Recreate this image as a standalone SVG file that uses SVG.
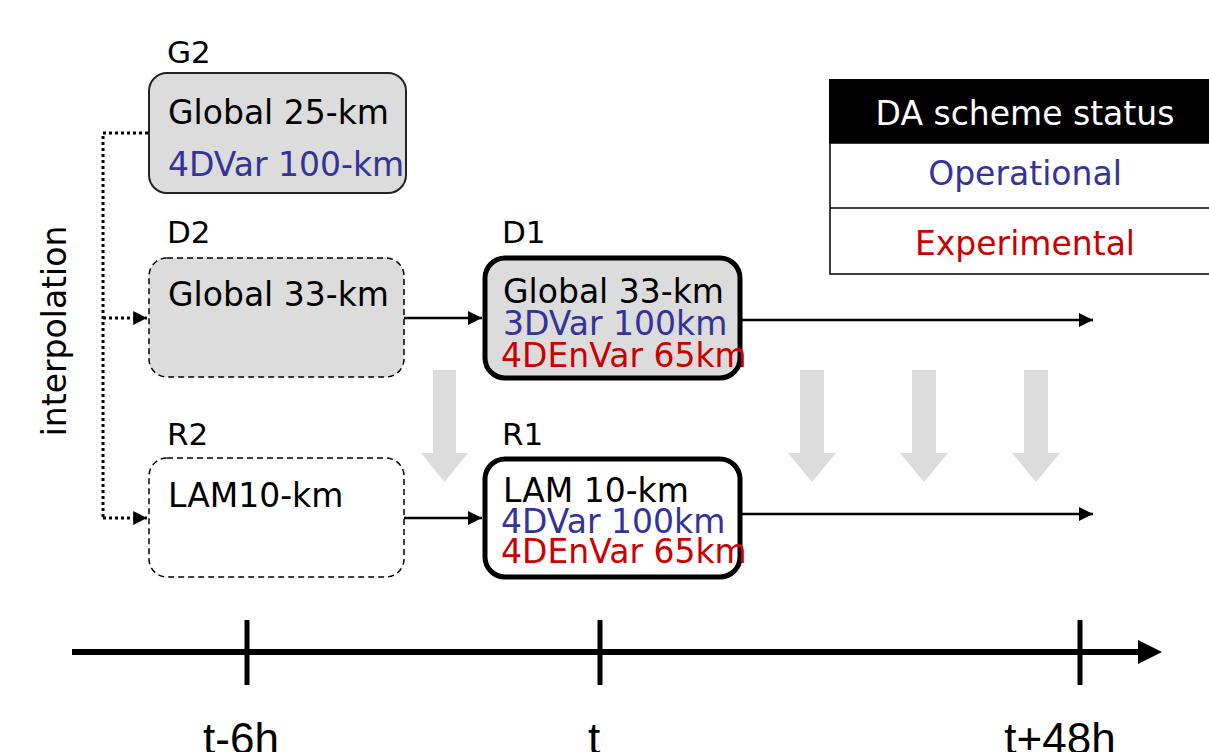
<svg xmlns="http://www.w3.org/2000/svg" width="1209" height="752" viewBox="0 0 1209 752">
<defs>
<style>
.t{font-family:"DejaVu Sans",Verdana,sans-serif;font-size:33px;fill:#000}
.lbl{font-family:"DejaVu Sans",Verdana,sans-serif;font-size:31px;fill:#000}
.op{fill:#333399}
.ex{fill:#cc0000}
.ax{font-family:"Liberation Sans",Arial,sans-serif;font-size:44px;fill:#000}
.conn{stroke:#000;stroke-width:2.5;fill:none}
.dot{stroke:#000;stroke-width:3;fill:none;stroke-dasharray:3,3}
.blk{fill:#dcdcdc}
</style>
<marker id="ah" viewBox="0 0 10 10" refX="10" refY="5" markerWidth="6" markerHeight="5.6" markerUnits="strokeWidth" orient="auto"><path d="M0,0 L10,5 L0,10 Z" fill="#000"/></marker>
<marker id="ahd" viewBox="0 0 10 10" refX="10" refY="5" markerWidth="4.6" markerHeight="4.8" markerUnits="strokeWidth" orient="auto"><path d="M0,0 L10,5 L0,10 Z" fill="#000"/></marker>
</defs>
<rect width="1209" height="752" fill="#fff"/>

<g id="blockarrows">
<path class="blk" d="M433,370 H456 V453 H468 L444.5,482 L421,453 H433 Z"/>
<path class="blk" d="M800,370 H824 V453 H836 L812,482 L788,453 H800 Z"/>
<path class="blk" d="M912,370 H936 V453 H948 L924,482 L900,453 H912 Z"/>
<path class="blk" d="M1024,370 H1048 V453 H1060 L1036,482 L1012,453 H1024 Z"/>
</g>

<g id="connectors">
<path class="dot" d="M148,133 H103 V518"/>
<line class="dot" x1="103" y1="318" x2="147" y2="318" marker-end="url(#ahd)"/>
<line class="dot" x1="103" y1="518" x2="147" y2="518" marker-end="url(#ahd)"/>
<line class="conn" x1="404" y1="318" x2="482" y2="318" marker-end="url(#ah)"/>
<line class="conn" x1="741" y1="320" x2="1093" y2="320" marker-end="url(#ah)"/>
<line class="conn" x1="404" y1="518" x2="482" y2="518" marker-end="url(#ah)"/>
<line class="conn" x1="741" y1="514" x2="1093" y2="514" marker-end="url(#ah)"/>
</g>

<g id="G2">
<text class="lbl" x="167" y="63">G2</text>
<rect x="149" y="73" width="257" height="120" rx="18" fill="#dcdcdc" stroke="#222" stroke-width="2"/>
<text class="t" x="168" y="124">Global 25-km</text>
<text class="t op" x="168" y="176">4DVar 100-km</text>
</g>

<g id="D2">
<text class="lbl" x="167" y="243">D2</text>
<rect x="149" y="258" width="255" height="119" rx="18" fill="#dcdcdc" stroke="#000" stroke-width="1.5" stroke-dasharray="6,4"/>
<text class="t" x="168" y="306">Global 33-km</text>
</g>

<g id="D1">
<text class="lbl" x="502" y="243">D1</text>
<rect x="485" y="258" width="255" height="120" rx="20" fill="#dcdcdc" stroke="#000" stroke-width="5"/>
<text class="t" x="503" y="303">Global 33-km</text>
<text class="t op" x="503" y="335">3DVar 100km</text>
<text class="t ex" x="501" y="367">4DEnVar 65km</text>
</g>

<g id="R2">
<text class="lbl" x="167" y="445">R2</text>
<rect x="149" y="458" width="255" height="119" rx="18" fill="#fff" stroke="#000" stroke-width="1.5" stroke-dasharray="6,4"/>
<text class="t" x="168" y="507">LAM10-km</text>
</g>

<g id="R1">
<text class="lbl" x="502" y="445">R1</text>
<rect x="485" y="459" width="255" height="118" rx="20" fill="#fff" stroke="#000" stroke-width="5"/>
<text class="t" x="503" y="502">LAM 10-km</text>
<text class="t op" x="501" y="533">4DVar 100km</text>
<text class="t ex" x="501" y="563">4DEnVar 65km</text>
</g>

<g id="interp">
<text class="t" font-size="32" transform="translate(66,331) rotate(-90)" text-anchor="middle">interpolation</text>
</g>

<g id="legend">
<rect x="829" y="79" width="380" height="64" fill="#000"/>
<rect x="830" y="143" width="390" height="131" fill="#fff" stroke="#000" stroke-width="1.5"/>
<line x1="830" y1="208" x2="1209" y2="208" stroke="#000" stroke-width="1.5"/>
<text class="t" font-size="31" x="1025" y="125" text-anchor="middle" style="fill:#fff">DA scheme status</text>
<text class="t op" font-size="31" x="1025" y="185" text-anchor="middle">Operational</text>
<text class="t ex" font-size="31" x="1025" y="255" text-anchor="middle">Experimental</text>
</g>

<g id="timeaxis">
<line x1="72" y1="652" x2="1140" y2="652" stroke="#000" stroke-width="6"/>
<path d="M1138,640 L1162,652 L1138,664 Z" fill="#000"/>
<line x1="247" y1="620" x2="247" y2="685" stroke="#000" stroke-width="5"/>
<line x1="600" y1="620" x2="600" y2="685" stroke="#000" stroke-width="5"/>
<line x1="1080" y1="620" x2="1080" y2="685" stroke="#000" stroke-width="5"/>
<text class="ax" x="241" y="754" text-anchor="middle">t-6h</text>
<text class="ax" x="594" y="754" text-anchor="middle">t</text>
<text class="ax" x="1060" y="754" text-anchor="middle">t+48h</text>
</g>
</svg>
